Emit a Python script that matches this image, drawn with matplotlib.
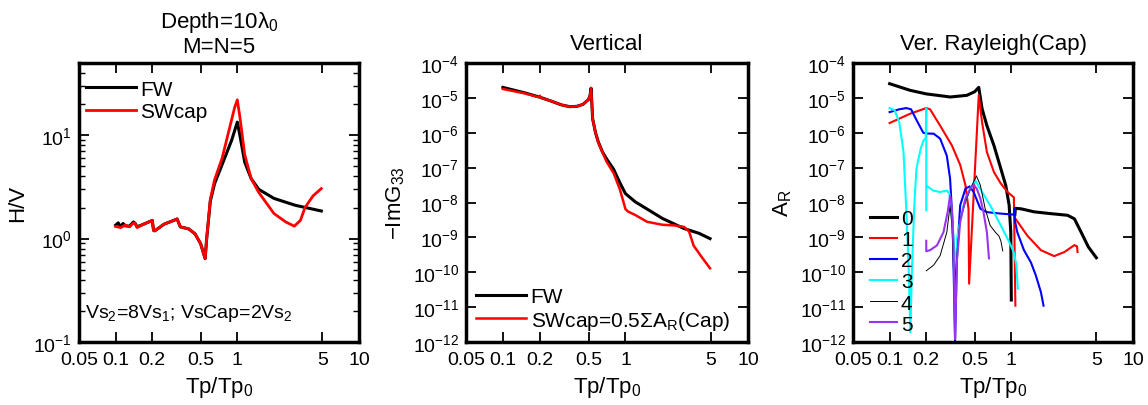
import numpy as np
import matplotlib
matplotlib.use("Agg")
import matplotlib.pyplot as plt
from matplotlib.ticker import FixedLocator, NullLocator, FixedFormatter, LogLocator

plt.rcParams['font.family'] = ['Liberation Sans', 'DejaVu Sans']
plt.rcParams['mathtext.fontset'] = 'custom'
plt.rcParams['mathtext.rm'] = 'Liberation Sans'
plt.rcParams['mathtext.it'] = 'Liberation Sans:italic'
plt.rcParams['mathtext.default'] = 'regular'

nan = np.nan

# ---- panel 1: H/V ----
hv_fw_x = [0.1, 0.105, 0.11, 0.115, 0.12, 0.13, 0.14, 0.145, 0.15, 0.17, 0.2, 0.205, 0.21, 0.25, 0.3,
           0.32, 0.34, 0.4, 0.45, 0.5, 0.544, 0.56, 0.6, 0.65, 0.75, 0.9, 1.0, 1.05, 1.15, 1.3, 1.5,
           2.0, 3.0, 4.0, 4.9]
hv_fw_y = [1.35, 1.42, 1.3, 1.4, 1.33, 1.32, 1.45, 1.4, 1.3, 1.38, 1.5, 1.2, 1.19, 1.38, 1.5,
           1.55, 1.3, 1.24, 1.11, 0.89, 0.64, 1.0, 2.3, 3.4, 5.2, 9.0, 13.4, 10.0, 5.5, 3.8, 3.0,
           2.45, 2.1, 1.95, 1.85]
hv_sw_x = [0.1, 0.11, 0.12, 0.13, 0.14, 0.145, 0.15, 0.17, 0.2, 0.205, 0.21, 0.25, 0.3, 0.32, 0.34,
           0.4, 0.45, 0.5, 0.544, 0.56, 0.6, 0.65, 0.75, 0.95, 1.0, 1.05, 1.15, 1.3, 1.5, 2.0, 2.5,
           2.94, 3.3, 3.6, 4.2, 4.9]
hv_sw_y = [1.31, 1.28, 1.35, 1.3, 1.42, 1.4, 1.28, 1.38, 1.5, 1.2, 1.19, 1.38, 1.5, 1.55, 1.3,
           1.24, 1.11, 0.89, 0.64, 1.0, 2.4, 3.7, 6.0, 18.5, 22.0, 15.0, 6.5, 3.8, 2.8, 1.75, 1.45,
           1.32, 1.5, 2.0, 2.6, 3.05]

# ---- panel 2: -ImG33 ----
g_fw_x = [0.1, 0.15, 0.2, 0.25, 0.3, 0.35, 0.4, 0.45, 0.5, 0.515, 0.524, 0.54, 0.57, 0.6, 0.65,
          0.7, 0.8, 0.9, 1.0, 1.2, 1.5, 2.0, 3.0, 4.0, 4.9]
g_fw_y = [2.0e-5, 1.4e-5, 1.05e-5, 8e-6, 6.3e-6, 5.6e-6, 5.7e-6, 6.5e-6, 9e-6, 1.2e-5, 1.9e-5,
          2.5e-6, 1.0e-6, 5.5e-7, 2.8e-7, 1.8e-7, 9e-8, 3.7e-8, 1.8e-8, 1.05e-8, 6.5e-9, 3.5e-9,
          1.8e-9, 1.3e-9, 9.2e-10]
g_sw_x = [0.1, 0.15, 0.195, 0.2, 0.205, 0.25, 0.3, 0.35, 0.4, 0.45, 0.5, 0.515, 0.524, 0.54, 0.57,
          0.6, 0.7, 0.8, 0.9, 1.0, 1.05, 1.2, 1.5, 2.0, 2.5, 3.0, 3.3, 3.6, 4.2, 4.9]
g_sw_y = [1.8e-5, 1.35e-5, 1.05e-5, 1.15e-5, 1.0e-5, 8e-6, 6.3e-6, 5.6e-6, 5.7e-6, 6.5e-6, 9e-6,
          1.2e-5, 1.9e-5, 2.5e-6, 1.0e-6, 5.2e-7, 1.5e-7, 7e-8, 2.4e-8, 6.5e-9, 5.5e-9, 4.4e-9,
          2.8e-9, 2.3e-9, 2.2e-9, 2.0e-9, 1.5e-9, 5.8e-10, 2.7e-10, 1.3e-10]

# ---- panel 3: A_R modes ----
m0_x = [0.1, 0.147, 0.2, 0.315, 0.43, 0.5, 0.54, 0.575, 0.63, 0.72, 0.82, 0.9, 0.96, 0.99, 1.0,
        nan, 1.07, 1.08, 1.2, 1.54, 2.1, 2.9, 3.3, 3.75, 4.3, 5.0]
m0_y = [2.55e-5, 1.65e-5, 1.3e-5, 1.06e-5, 1.18e-5, 1.5e-5, 2.0e-5, 4.9e-6, 1.6e-6, 4.3e-7,
        9.3e-8, 3.1e-8, 8.3e-9, 1.4e-9, 1.6e-11, nan, 4.5e-9, 6.8e-9, 6.6e-9, 5.4e-9, 4.8e-9,
        4.3e-9, 3.4e-9, 1.4e-9, 5.3e-10, 2.6e-10]
m1_x = [0.1, 0.147, 0.2, 0.215, 0.26, 0.325, 0.38, 0.42, 0.445, 0.45, 0.54, 0.575, 0.63, 0.72,
        0.82, 0.93, 1.05, 1.08, nan, 1.09, 1.36, 1.75, 2.25, 2.73, 3.3, 3.47, 3.5]
m1_y = [1.9e-6, 3.5e-6, 5.1e-6, 4.7e-6, 1.6e-6, 4.3e-7, 1.2e-7, 3.1e-8, 6.6e-9, 4.7e-11, 1.2e-5,
        2.0e-6, 2.8e-7, 7.4e-8, 3.5e-8, 2.0e-8, 1.4e-8, 1.1e-11, nan, 3.3e-9, 1.1e-9, 4.3e-10,
        2.9e-10, 3.8e-10, 6.0e-10, 5.5e-10, 3.8e-10]
m2_x = [0.1, 0.12, 0.137, 0.15, 0.17, 0.189, 0.2, 0.23, 0.26, 0.295, 0.314, 0.33, 0.345, 0.357,
        0.38, 0.42, 0.455, 0.49, 0.557, 0.63, 0.82, 1.05, 1.065, 1.07, 1.12, 1.27, 1.45, 1.59,
        1.75, 1.84]
m2_y = [3.9e-6, 4.7e-6, 5.1e-6, 4.7e-6, 2.0e-6, 1.0e-6, 9.5e-7, 9.4e-7, 6.8e-7, 2.2e-7, 4.8e-8,
        2.2e-9, 1e-12, 2.5e-10, 8.3e-9, 2.5e-8, 2.9e-8, 2.0e-8, 6.6e-9, 5.3e-9, 4.8e-9, 4.5e-9,
        7e-9, 3e-9, 1.4e-9, 4.3e-10, 1.9e-10, 8.1e-11, 2.7e-11, 1.1e-11]
m3_x = [0.1, 0.11, 0.12, 0.13, 0.137, 0.144, 0.148, 0.152, 0.159, 0.166, 0.18, 0.19, 0.198,
        0.2, 0.2, nan, 0.202, 0.207, 0.228, 0.26, 0.295, 0.31, 0.318, 0.335, 0.348, 0.36, 0.405,
        0.46, 0.505, 0.575, 0.67, 0.82, 0.96, 1.05, 1.1, 1.13]
m3_y = [5.1e-6, 4.4e-6, 2.0e-6, 2.8e-7, 6.6e-9, 8e-11, 1.9e-12, 8e-11, 6.6e-9, 9.3e-8, 3.5e-7,
        6.0e-7, 7e-7, 5e-6, 6e-9, nan, 3e-8, 2.8e-8, 2.2e-8, 2.0e-8, 2.2e-8, 1.8e-8, 8.3e-9,
        1.1e-9, 8e-11, 1.1e-9, 8.3e-9, 2.5e-8, 4.3e-8, 2.0e-8, 8.3e-9, 2.2e-9, 7.4e-10, 3.7e-10,
        1.6e-10, 3.4e-11]
m4_x = [0.2, 0.23, 0.26, 0.295, 0.314, 0.325, 0.34, 0.36, 0.38, 0.43, 0.475, 0.517, 0.557, 0.61,
        0.67, 0.74, 0.79, 0.82, 0.85]
m4_y = [1.1e-10, 1.6e-10, 3.0e-10, 1.4e-9, 8.3e-9, 2.2e-9, 2.7e-11, 5e-10, 3.4e-9, 1.3e-8,
        3.1e-8, 5.8e-8, 3.1e-8, 6.6e-9, 2.2e-9, 1.4e-9, 1.1e-9, 8e-10, 4.1e-10]
m5_x = [0.2, 0.2, 0.215, 0.245, 0.277, 0.3, 0.314, 0.325, 0.335, 0.345, 0.357, 0.38, 0.42, 0.46,
        0.49, 0.52, 0.557, 0.59, 0.63, 0.655]
m5_y = [8e-10, 4e-10, 4.3e-10, 5.9e-10, 1.4e-9, 5.4e-9, 1.6e-8, 6.6e-9, 5.9e-10, 1.2e-12,
        2.0e-10, 2.8e-9, 1.3e-8, 2.5e-8, 3.2e-8, 2.5e-8, 1.3e-8, 5.4e-9, 1.4e-9, 2.5e-10]

xticks = [0.05, 0.1, 0.2, 0.5, 1, 5, 10]
xticklabels = ['0.05', '0.1', '0.2', '0.5', '1', '5', '10']

fig = plt.figure(figsize=(11.48, 4.06), dpi=100)
ax1 = fig.add_axes([79 / 1148, 63 / 406, 280 / 1148, 279 / 406])
ax2 = fig.add_axes([466 / 1148, 63 / 406, 282 / 1148, 279 / 406])
ax3 = fig.add_axes([853 / 1148, 63 / 406, 280 / 1148, 279 / 406])


def style(ax):
    ax.set_xscale('log')
    ax.set_yscale('log')
    ax.set_xlim(0.05, 10)
    ax.xaxis.set_major_locator(FixedLocator(xticks))
    ax.xaxis.set_major_formatter(FixedFormatter(xticklabels))
    ax.xaxis.set_minor_locator(NullLocator())
    for s in ax.spines.values():
        s.set_linewidth(2.5)
    ax.tick_params(which='major', direction='in', length=7, width=1.3, top=True, right=True,
                   labelsize=14, pad=5)
    ax.tick_params(axis='x', which='major', pad=6.5)
    ax.tick_params(which='minor', direction='in', length=4, width=1.0, top=True, right=True)
    ax.set_xlabel('Tp/Tp$_0$', fontsize=16, labelpad=4)


style(ax1)
ax1.plot(hv_fw_x, hv_fw_y, color='black', lw=2.2, label='FW')
ax1.plot(hv_sw_x, hv_sw_y, color='red', lw=2.0, label='SWcap')
ax1.set_ylim(0.1, 50)
ax1.yaxis.set_major_locator(FixedLocator([0.1, 1, 10]))
ax1.yaxis.set_minor_locator(LogLocator(base=10, subs=np.arange(2, 10), numticks=20))
ax1.set_ylabel('H/V', fontsize=16)
ax1.set_title('Depth=10$\\lambda_0$\nM=N=5', fontsize=16, pad=8, linespacing=1.1)
ax1.legend(loc='upper left', frameon=False, fontsize=15, handlelength=2.4, handletextpad=0.2,
           borderaxespad=0.1, labelspacing=0.15, borderpad=0.7, bbox_to_anchor=(-0.035, 1.0))
ax1.text(0.02, 0.107, 'Vs$_2$=8Vs$_1$; VsCap=2Vs$_2$', transform=ax1.transAxes, fontsize=14,
         va='center', ha='left')

style(ax2)
ax2.plot(g_fw_x, g_fw_y, color='black', lw=2.2, label='FW')
ax2.plot(g_sw_x, g_sw_y, color='red', lw=1.8, label='SWcap=0.5$\\Sigma$A$_R$(Cap)')
ax2.set_ylim(1e-12, 1e-4)
ax2.yaxis.set_major_locator(FixedLocator(10.0 ** np.arange(-12, -3)))
ax2.yaxis.set_minor_locator(NullLocator())
ax2.set_ylabel('\u2212ImG$_{33}$', fontsize=16)
ax2.set_title('Vertical', fontsize=16, pad=10)
ax2.legend(loc='lower left', frameon=False, fontsize=15, handlelength=2.4, handletextpad=0.2,
           borderaxespad=0.2, labelspacing=0.1, borderpad=0.3)

style(ax3)
ax3.plot(m0_x, m0_y, color='black', lw=2.2, label='0')
ax3.plot(m1_x, m1_y, color='red', lw=1.5, label='1')
ax3.plot(m2_x, m2_y, color='blue', lw=1.5, label='2')
ax3.plot(m3_x, m3_y, color='cyan', lw=1.5, label='3')
ax3.plot(m4_x, m4_y, color='black', lw=0.7, label='4')
ax3.plot(m5_x, m5_y, color='#9933ee', lw=1.5, label='5')
ax3.set_ylim(1e-12, 1e-4)
ax3.yaxis.set_major_locator(FixedLocator(10.0 ** np.arange(-12, -3)))
ax3.yaxis.set_minor_locator(NullLocator())
ax3.set_ylabel('A$_R$', fontsize=16)
ax3.set_title('Ver. Rayleigh(Cap)', fontsize=16, pad=10)
ax3.legend(loc='lower left', frameon=False, fontsize=15, handlelength=1.3, handletextpad=0.2,
           borderaxespad=0.2, labelspacing=0.1, borderpad=0.2, bbox_to_anchor=(0.03, 0.0))

fig.savefig('out.png', dpi=100)
